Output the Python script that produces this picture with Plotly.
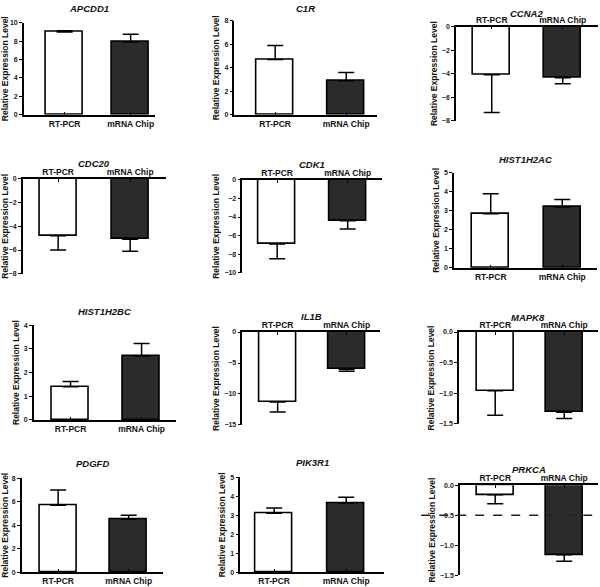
import plotly.graph_objects as go

# ---- data ----
genes = ["APCDD1", "C1R", "CCNA2", "CDC20", "CDK1", "HIST1H2AC",
         "HIST1H2BC", "IL1B", "MAPK8", "PDGFD", "PIK3R1", "PRKCA"]
categories = ["RT-PCR", "mRNA Chip"]
rt_pcr = [9.0, 4.7, -4.1, -4.8, -6.9, 2.85, 1.4, -11.3, -0.96, 5.7, 3.1, -0.16]
rt_pcr_err = [0.12, 1.2, 3.2, 1.2, 1.6, 1.05, 0.22, 1.6, 0.4, 1.3, 0.28, 0.15]
chip = [7.9, 2.9, -4.35, -5.1, -4.4, 3.2, 2.7, -6.0, -1.31, 4.5, 3.65, -1.16]
chip_err = [0.85, 0.7, 0.5, 1.0, 0.9, 0.4, 0.52, 0.35, 0.1, 0.35, 0.3, 0.11]
y_ranges = [(0, 10), (0, 8), (-8, 0), (-8, 0), (-10, 0), (0, 5),
            (0, 4), (-15, 0), (-1.5, 0), (0, 8), (0, 5), (-1.5, 0)]
y_dticks = [2, 2, 2, 2, 2, 1, 1, 5, 0.5, 2, 1, 0.5]
y_formats = ["", "", "", "", "", "", "", "", ".1f", "", "", ".1f"]
y_title = "Relative Expression Level"
prkca_threshold = -0.5

# ---- geometry (pixels): x0, x1, centre0, centre1, ytop, ybottom, title_y ----
geom = [
    (20, 152, 61, 127.5, 19, 112, 5),
    (232, 375, 273, 344.5, 17, 112, 5),
    (455, 598, 491, 562.5, 23, 118, 10),
    (19, 163, 54.5, 127, 177, 273, 161),
    (240, 381, 275, 346, 178, 272, 162),
    (453, 597, 490, 562, 171, 267, 157),
    (30, 173, 67, 138.5, 325, 421, 311),
    (240, 379, 275.5, 345, 332, 426, 316),
    (458, 598, 494.5, 564, 332, 425, 317),
    (18, 160, 54.5, 125.5, 480, 575, 465),
    (238, 383, 272, 344.5, 479, 575, 464),
    (459, 598, 494.5, 564, 487, 578, 471),
]
W, H = 600, 587
FONT = "Liberation Sans, Arial, sans-serif"
DARK = "#2b2b2b"

fig = go.Figure()
annotations = []
shapes = []
for i, g in enumerate(genes):
    n = i + 1
    x0, x1, c0, c1, yt, yb, ty = geom[i]
    sp = c1 - c0
    vals = [rt_pcr[i], chip[i]]
    errs = [rt_pcr_err[i], chip_err[i]]
    neg = vals[0] < 0
    fig.add_trace(go.Bar(
        x=categories, y=vals, width=37 / sp,
        marker=dict(color=["white", DARK], line=dict(color="black", width=1.6)),
        error_y=dict(type="data", symmetric=False,
                     array=[0 if neg else e for e in errs],
                     arrayminus=[e if neg else 0 for e in errs],
                     color="black", thickness=1.5, width=8),
        xaxis=f"x{n}", yaxis=f"y{n}", showlegend=False, hoverinfo="skip"))
    xd = [x0 / W, x1 / W]
    yd = [1 - yb / H, 1 - yt / H]
    fig.layout[f"xaxis{n}" if n > 1 else "xaxis"] = dict(
        domain=xd, anchor=f"y{n}", range=[-(c0 - x0) / sp, (x1 - c0) / sp],
        type="category", side="top" if neg else "bottom",
        showline=True, linecolor="black", linewidth=1.5,
        ticks="inside", ticklen=3, tickwidth=1.2, tickcolor="black",
        ticklabelstandoff=-1 if neg else 0,
        tickfont=dict(family=FONT, size=8.5, color="#111", weight="bold"),
        showgrid=False, zeroline=False, fixedrange=True)
    lo, hi = y_ranges[i]
    fig.layout[f"yaxis{n}" if n > 1 else "yaxis"] = dict(
        domain=yd, anchor=f"x{n}", range=[lo, hi], dtick=y_dticks[i],
        tick0=0, tickformat=y_formats[i],
        showline=True, linecolor="black", linewidth=1.5,
        ticks="outside", ticklen=3, tickwidth=1.2, tickcolor="black",
        tickfont=dict(family=FONT, size=7, color="#222", weight="bold"),
        title=dict(text=y_title, standoff=3,
                   font=dict(family=FONT, size=8.5, color="#111", weight="bold")),
        showgrid=False, zeroline=False, fixedrange=True)
    annotations.append(dict(
        text=f"<b><i>{g}</i></b>", x=(xd[0] + xd[1]) / 2, y=1 - ty / H,
        xref="paper", yref="paper", showarrow=False, xanchor="center",
        yanchor="middle", font=dict(family=FONT, size=9.5, color="#111")))
    if g == "PRKCA":
        shapes.append(dict(type="line", xref="paper", yref=f"y{n}",
                           x0=420 / W, x1=1.0, y0=prkca_threshold,
                           y1=prkca_threshold,
                           line=dict(color="#222", width=1.5, dash="dash")))

fig.update_layout(
    width=W, height=H, margin=dict(l=0, r=0, t=0, b=0),
    paper_bgcolor="white", plot_bgcolor="white",
    annotations=annotations, shapes=shapes, bargap=0)
fig.write_html("out.html", config={"displayModeBar": False},
               post_script="document.body.style.margin='0';"
                           "document.body.style.overflow='hidden';")
